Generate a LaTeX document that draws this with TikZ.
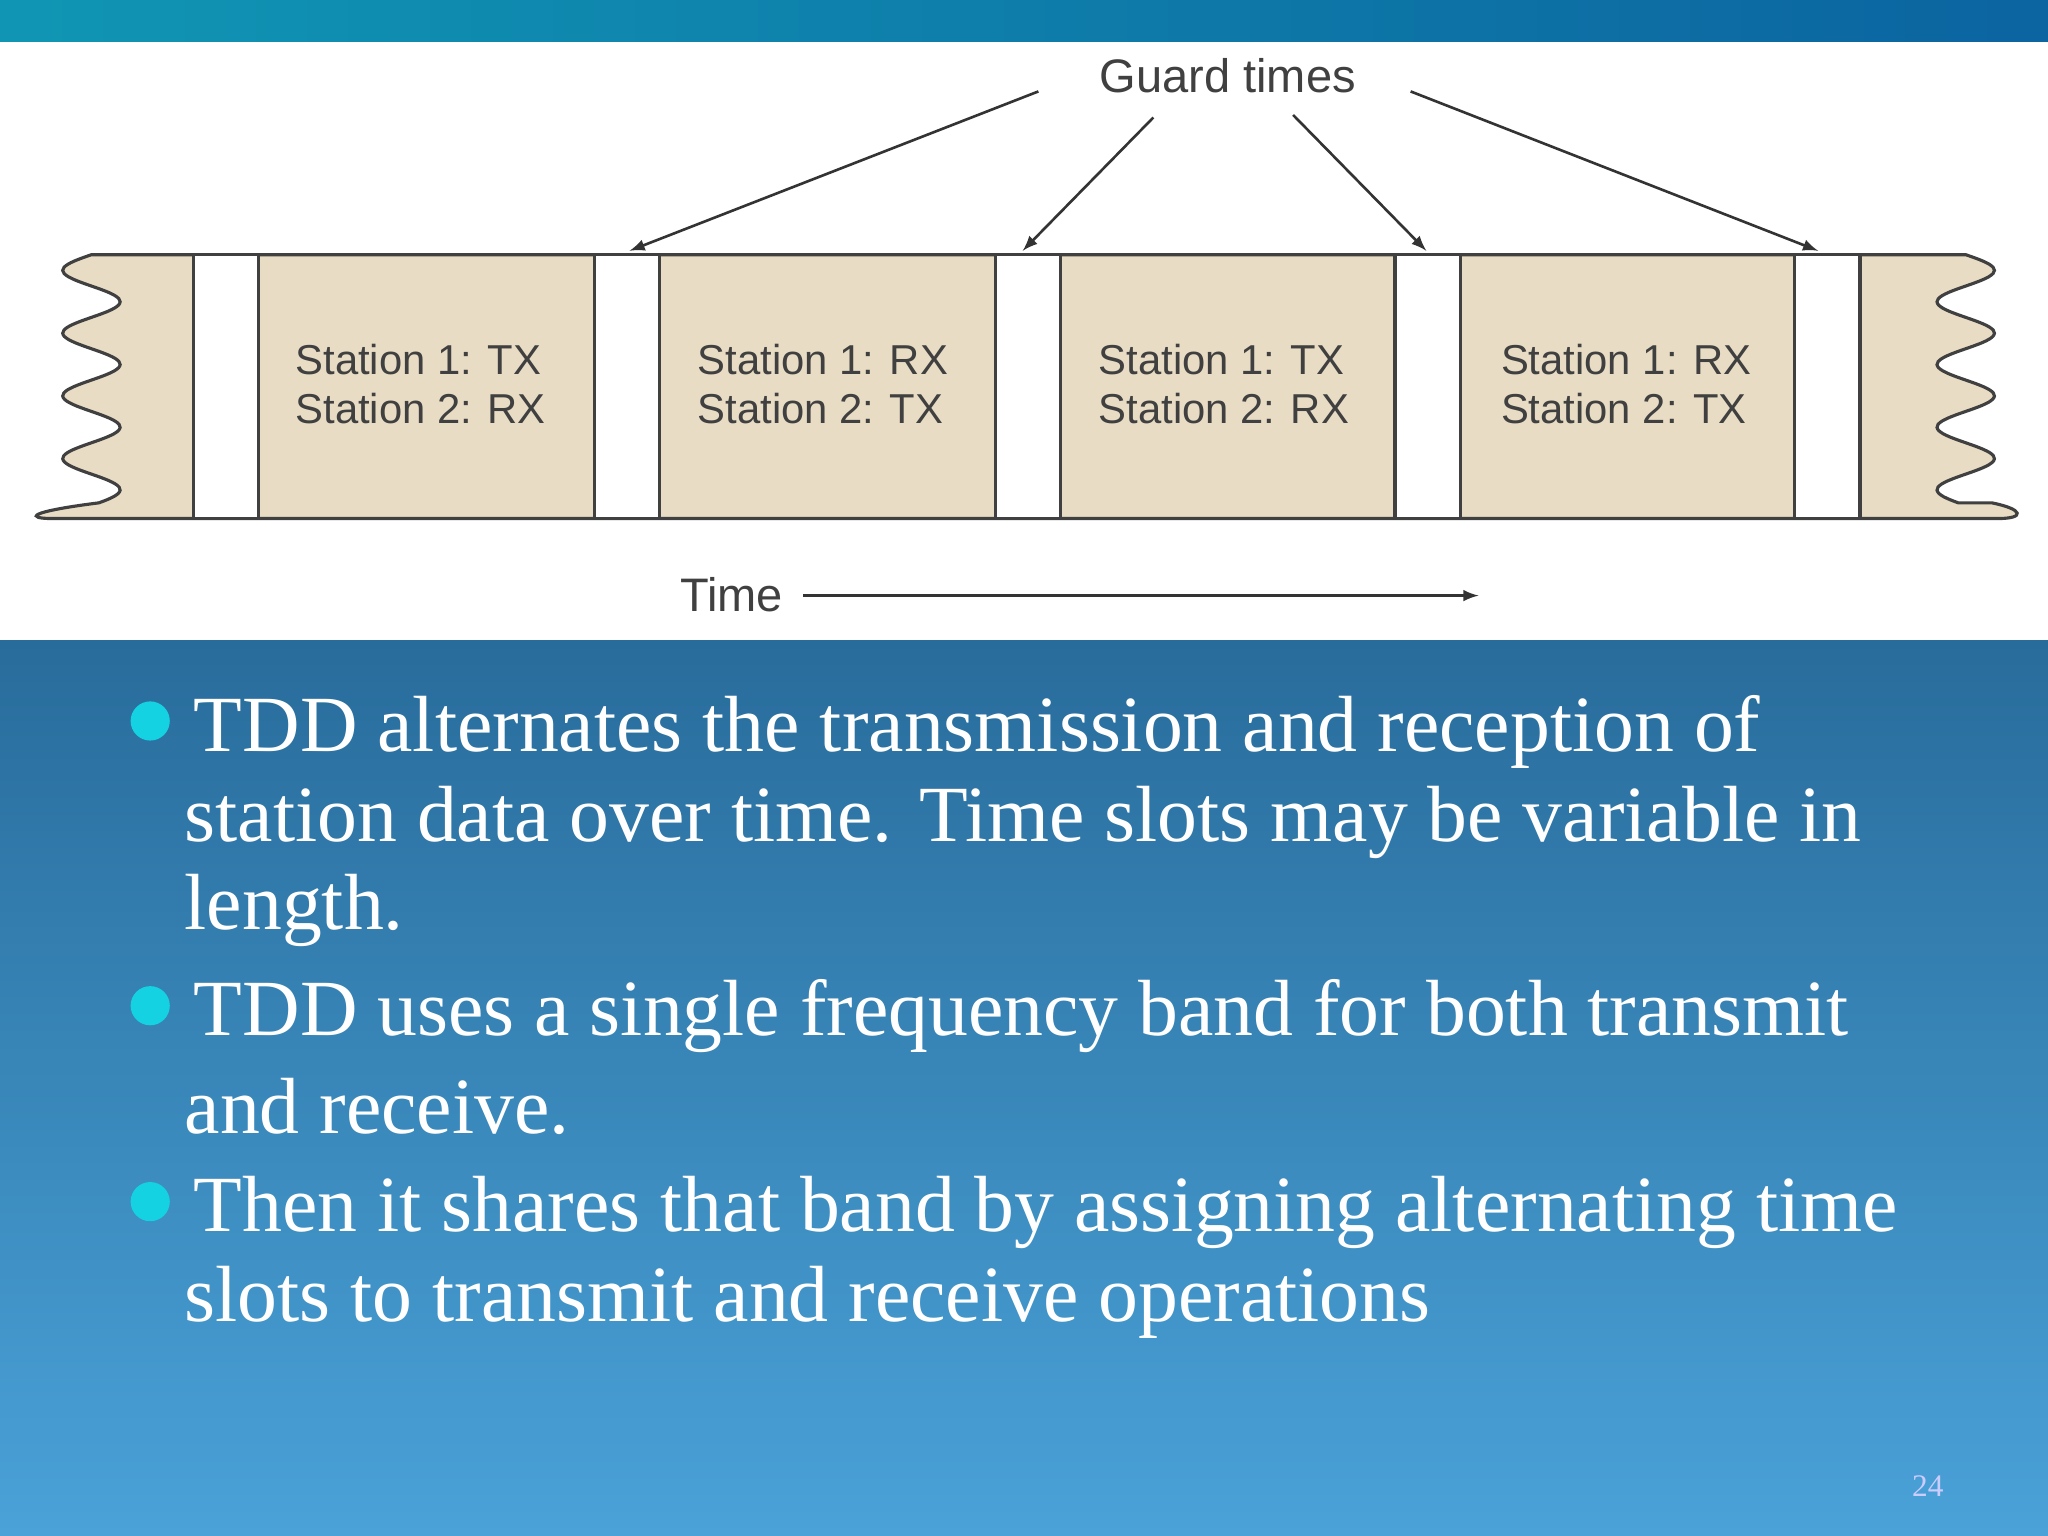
\documentclass[tikz,border=0pt]{standalone}
\usepackage{fontspec}
\setmainfont{Liberation Serif}
\newfontfamily\diag{Liberation Sans}
\definecolor{bgtop}{RGB}{40,108,155}
\definecolor{bgbot}{RGB}{74,162,216}
\definecolor{bartl}{RGB}{16,150,180}
\definecolor{bartr}{RGB}{12,100,160}
\definecolor{bulc}{RGB}{20,210,225}
\begin{document}
\begin{tikzpicture}[x=0.5pt,y=-0.5pt,
  slot/.style={font=\diag\fontsize{16}{19}\selectfont, text=black!75, align=left},
  guard/.style={fill=white, draw=black!75, line width=1.2pt},
  arr/.style={-latex, line width=1pt, draw=black!80},
  bul/.style={circle, fill=bulc, minimum size=15pt, inner sep=0pt},
  btxt/.style={anchor=west, text=white, font=\fontsize{30.5}{34}\selectfont, inner sep=0pt}]
\useasboundingbox (0,0) rectangle (1568,1176);
% backgrounds
\shade[top color=bgtop, bottom color=bgbot] (0,490) rectangle (1568,1176);
\shade[left color=bartl, right color=bartr] (0,0) rectangle (1568,32);
\fill[white] (0,32) rectangle (1568,490);
% band
\fill[fill={rgb,255:red,232;green,220;blue,196}, draw=black!75, line width=1.2pt]
  (80,195) -- plot[domain=195:385,samples=80,smooth] ({70-22*sin((\x-195)*7.5)},{\x}) .. controls (20,392) and (20,397) .. (40,397)
  -- (1530,397) .. controls (1550,397) and (1550,390) .. (1525,385)
  -- plot[domain=385:195,samples=80,smooth] ({1505+22*sin((\x-195)*7.5)},{\x}) -- cycle;
\foreach \a/\n in {148/g1,455/g2,762/g3,1068/g4,1374/g5}
  \draw[guard] (\a,195) rectangle (\a+50,397) coordinate (\n);
\coordinate (t1) at (482,192); \coordinate (t2) at (783,192);
\coordinate (t3) at (1092,192); \coordinate (t4) at (1392,192);
\node[slot] (s1) at (322,294) {Station 1: TX\\Station 2: RX};
\node[slot] (s2) at (630,294) {Station 1: RX\\Station 2: TX};
\node[slot] (s3) at (937,294) {Station 1: TX\\Station 2: RX};
\node[slot] (s4) at (1245,294) {Station 1: RX\\Station 2: TX};
\node[slot,font=\diag\fontsize{18}{20}\selectfont] (gt) at (940,58) {Guard times};
\coordinate (a1) at (795,70); \coordinate (a2) at (883,90);
\coordinate (a3) at (990,88); \coordinate (a4) at (1080,70);
\draw[arr] (a1) -- (t1); \draw[arr] (a2) -- (t2);
\draw[arr] (a3) -- (t3); \draw[arr] (a4) -- (t4);
\node[slot,font=\diag\fontsize{18}{20}\selectfont] (time) at (560,455) {Time};
\coordinate (te) at (1132,456);
\draw[arr] (615,456) -- (te);
% bullets
\node[bul] (b1) at (115,552) {};
\node[bul] (b2) at (115,770) {};
\node[bul] (b3) at (115,920) {};
\node[btxt] (l1) at (148,560) {TDD alternates the transmission and reception of};
\node[btxt] (l2) at (141,630) {station data over time. Time slots may be variable in};
\node[btxt] (l3) at (141,697) {length.};
\node[btxt] (l4) at (148,778) {TDD uses a single frequency band for both transmit};
\node[btxt] (l5) at (141,847) {and receive.};
\node[btxt] (l6) at (148,928) {Then it shares that band by assigning alternating time};
\node[btxt] (l7) at (141,997) {slots to transmit and receive operations};
\node[text=white!80!blue, font=\fontsize{12}{14}\selectfont] (pg) at (1476,1138) {24};
\end{tikzpicture}
\end{document}
